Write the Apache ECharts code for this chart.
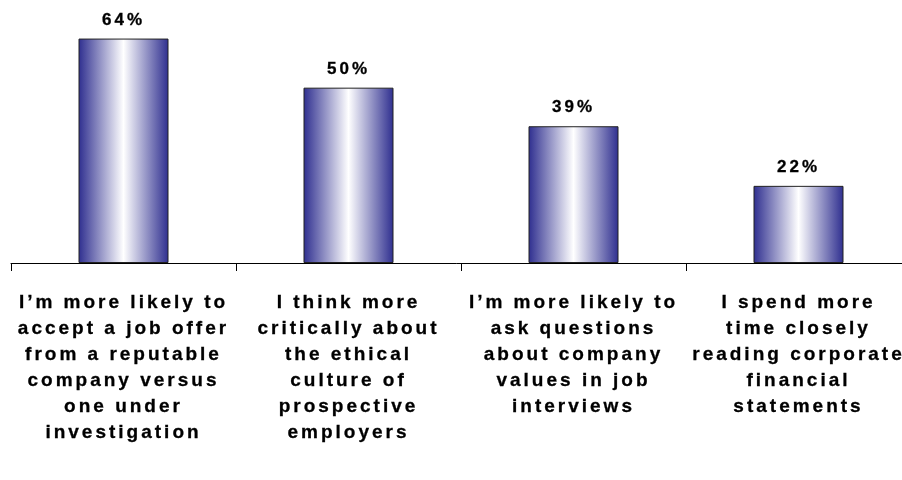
<!DOCTYPE html>
<html>
<head>
<meta charset="utf-8">
<script src="https://cdn.jsdelivr.net/npm/echarts@6/dist/echarts.min.js"></script>
<style>
  html, body { margin: 0; padding: 0; background: #fff; }
  #main { width: 902px; height: 480px; }
</style>
</head>
<body>
<div id="main"></div>
<script>
var categories = [
  "I\u2019m more likely to\naccept a job offer\nfrom a reputable\ncompany versus\none under\ninvestigation",
  "I think more\ncritically about\nthe ethical\nculture of\nprospective\nemployers",
  "I\u2019m more likely to\nask questions\nabout company\nvalues in job\ninterviews",
  "I spend more\ntime closely\nreading corporate\nfinancial\nstatements"
];
var values = [64, 50, 39, 22];

// the original text is drawn with wide letter spacing
var origFillText = CanvasRenderingContext2D.prototype.fillText;
var origStrokeText = CanvasRenderingContext2D.prototype.strokeText;
CanvasRenderingContext2D.prototype.fillText = function () {
  this.letterSpacing = '3px';
  return origFillText.apply(this, arguments);
};
CanvasRenderingContext2D.prototype.strokeText = function () {
  this.letterSpacing = '3px';
  return origStrokeText.apply(this, arguments);
};

var myChart = echarts.init(document.getElementById("main"));
var option = {
  animation: false,
  grid: {
    left: 11,
    width: 900,
    top: 0,
    height: 263,
    outerBoundsMode: 'none',
    containLabel: false
  },
  xAxis: {
    type: 'category',
    data: categories,
    axisLine: { show: true, lineStyle: { color: '#000', width: 1 } },
    axisTick: { show: true, length: 8, lineStyle: { color: '#000' } },
    axisLabel: {
      interval: 0,
      margin: 27,
      color: '#000',
      fontFamily: 'Liberation Sans, Arial, sans-serif',
      fontWeight: 'bold',
      fontSize: 19,
      lineHeight: 26,
      verticalAlign: 'top',
      textBorderColor: '#000',
      textBorderWidth: 0.3
    }
  },
  yAxis: {
    type: 'value',
    min: 0,
    max: 75,
    show: false
  },
  series: [{
    type: 'bar',
    data: values,
    barWidth: '40%',
    itemStyle: {
      borderColor: '#222',
      borderWidth: 1,
      color: new echarts.graphic.LinearGradient(0, 0, 1, 0, [
        { offset: 0, color: '#2e2e8f' },
        { offset: 0.5, color: '#ffffff' },
        { offset: 1, color: '#2e2e8f' }
      ])
    },
    label: {
      show: true,
      position: 'top',
      distance: 10,
      formatter: '{c}%',
      color: '#000',
      fontFamily: 'Liberation Sans, Arial, sans-serif',
      fontWeight: 'bold',
      fontSize: 17,
      textBorderColor: '#000',
      textBorderWidth: 0.3
    }
  }]
};
myChart.setOption(option);
</script>
</body>
</html>
